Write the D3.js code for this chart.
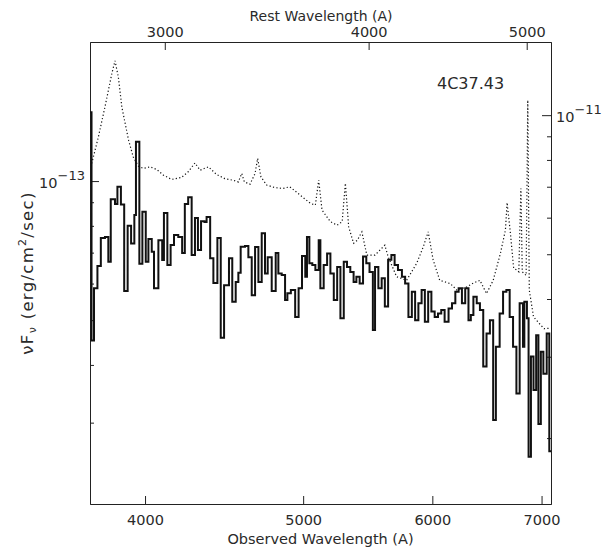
<!DOCTYPE html>
<html>
<head>
<meta charset="utf-8">
<script src="https://cdn.jsdelivr.net/npm/d3@7"></script>
<style>
  body { margin: 0; background: #fff; }
  text { font-family: "DejaVu Sans", sans-serif; fill: #2a2a2a; }
</style>
</head>
<body>
<svg id="chart" width="606" height="549"></svg>
<script>
// 4C37.43 spectrum: observed (histogram, left axis) and model (dotted, right axis)
const redshift = 0.371;

// observed spectrum: left bin edges (A) and flux in units of 1e-14 erg/cm2/sec
const obsEdge = [
  3701, 3709, 3722, 3740, 3758, 3780, 3798, 3811, 3834, 3847,
  3866, 3884, 3903, 3922, 3940, 3949, 3968, 3985, 4004, 4019,
  4038, 4051, 4076, 4098, 4108, 4128, 4147, 4167, 4192, 4215,
  4231, 4251, 4272, 4292, 4310, 4329, 4350, 4363, 4385, 4405,
  4430, 4451, 4472, 4503, 4524, 4546, 4563, 4578, 4606, 4628,
  4650, 4672, 4694, 4716, 4738, 4756, 4783, 4810, 4828, 4851,
  4874, 4890, 4914, 4944, 4968, 4992, 5015, 5027, 5044, 5065,
  5087, 5111, 5123, 5147, 5172, 5196, 5221, 5246, 5270, 5295,
  5319, 5344, 5369, 5390, 5415, 5441, 5466, 5491, 5517, 5534,
  5560, 5586, 5611, 5637, 5663, 5689, 5716, 5748, 5774, 5801,
  5829, 5856, 5883, 5910, 5937, 5965, 5992, 6020, 6048, 6076,
  6105, 6139, 6169, 6198, 6227, 6256, 6285, 6314, 6335, 6358,
  6388, 6417, 6447, 6477, 6508, 6538, 6563, 6598, 6630, 6661,
  6692, 6724, 6756, 6787, 6819, 6832, 6857, 6873, 6896, 6921,
  6947, 6969, 6993, 7018, 7051, 7077
];
const obsEnd = 7094;
const obsFlux = [
  14.1, 4.52, 5.86, 6.55, 7.53, 7.57, 6.69, 9.13, 8.92, 9.72,
  8.90, 5.78, 8.00, 7.33, 8.44, 12.16, 6.62, 8.58, 6.69, 7.49,
  7.03, 5.86, 7.45, 6.75, 8.53, 6.58, 7.27, 7.64, 7.57, 6.99,
  8.92, 9.23, 6.92, 8.32, 7.09, 8.19, 8.15, 8.36, 6.81, 6.02,
  7.53, 4.58, 5.95, 6.81, 5.48, 6.05, 6.33, 7.21, 7.24, 6.84,
  5.66, 7.20, 6.05, 7.71, 6.31, 6.84, 5.78, 6.99, 6.31, 6.26,
  5.53, 5.72, 5.81, 5.08, 5.86, 6.88, 6.21, 7.57, 6.64, 6.58,
  6.42, 7.45, 5.86, 6.58, 6.97, 6.31, 5.53, 6.52, 5.05, 6.69,
  6.52, 6.36, 6.05, 6.21, 6.00, 6.87, 6.64, 6.36, 4.76, 6.52,
  5.86, 6.16, 5.35, 6.76, 6.92, 6.58, 6.42, 6.21, 6.00, 5.08,
  5.76, 5.00, 5.44, 5.81, 4.96, 5.76, 5.22, 5.08, 5.17, 5.26,
  4.96, 5.30, 5.44, 5.76, 5.86, 5.44, 5.86, 5.00, 5.13, 5.62,
  5.44, 5.26, 3.97, 4.68, 5.00, 3.04, 4.38, 5.17, 5.76, 5.81,
  5.08, 4.38, 3.47, 5.44, 4.38, 5.48, 5.05, 2.53, 4.17, 3.53,
  4.64, 2.98, 4.27, 3.83, 4.68, 2.60
];

// model spectrum: wavelength (A) and flux in units of 1e-12 erg/cm2/sec
const modelWave = [
  3710, 3745, 3780, 3817, 3834, 3852, 3871, 3908, 3934, 3962,
  3990, 4028, 4066, 4104, 4153, 4211, 4251, 4292, 4323, 4374,
  4425, 4476, 4530, 4563, 4585, 4602, 4639, 4672, 4689, 4711,
  4749, 4804, 4860, 4906, 4980, 5052, 5087, 5111, 5135, 5196,
  5246, 5283, 5307, 5332, 5369, 5397, 5432, 5470, 5534, 5611,
  5637, 5705, 5786, 5869, 5924, 5965, 6007, 6063, 6154, 6212,
  6300, 6356, 6417, 6477, 6538, 6605, 6652, 6668, 6699, 6730,
  6762, 6779, 6799, 6812, 6849, 6865, 6880, 6921, 6978, 7025,
  7088
];
const modelFlux = [
  7.86, 8.97, 10.42, 12.31, 13.11, 12.10, 10.42, 8.83, 8.12, 7.76,
  7.67, 7.73, 7.63, 7.42, 7.26, 7.33, 7.54, 7.88, 7.60, 7.73,
  7.44, 7.29, 7.23, 7.17, 7.48, 7.17, 7.09, 7.48, 8.06, 7.35,
  7.06, 6.97, 6.94, 7.00, 6.71, 6.44, 6.39, 7.23, 6.23, 5.88,
  5.78, 5.88, 7.12, 5.73, 5.28, 5.36, 5.59, 4.98, 4.98, 5.23,
  4.94, 4.47, 4.39, 4.78, 5.19, 5.59, 4.86, 4.39, 4.32, 4.18,
  4.25, 4.33, 4.39, 4.11, 4.39, 5.02, 5.64, 6.47, 5.55, 4.66,
  4.62, 4.58, 6.94, 4.58, 4.50, 10.78, 4.18, 3.66, 3.54, 3.45,
  3.46
];

const obsTicks = [4000, 5000, 6000, 7000];
const restTicks = [3000, 4000, 5000];
const leftMajor = [1e-13];
const leftMinor = [3e-14, 4e-14, 5e-14, 6e-14, 7e-14, 8e-14, 9e-14];
const rightMajor = [1e-11];
const rightMinor = [2e-12, 3e-12, 4e-12, 5e-12, 6e-12, 7e-12, 8e-12, 9e-12];

const margin = { top: 42, right: 55, bottom: 45, left: 90 };
const width = 606 - margin.left - margin.right;
const height = 549 - margin.top - margin.bottom;

const svg = d3.select("#chart");
const g = svg.append("g").attr("transform", `translate(${margin.left},${margin.top})`);

const xScale = d3.scaleLog().domain([obsEdge[0], obsEnd]).range([0, width]);
const xRest = d3.scaleLog()
  .domain([obsEdge[0] / (1 + redshift), obsEnd / (1 + redshift)])
  .range([0, width]);
const yLeft = d3.scaleLog().domain([2e-14, 2e-13]).range([height, 0]);
const yRight = d3.scaleLog().domain([1.44e-12, 1.44e-11]).range([height, 0]);

// axes
function styleAxis(sel) {
  sel.selectAll("path.domain").attr("stroke", "#222").attr("stroke-width", 1);
  sel.selectAll(".tick line").attr("stroke", "#222").attr("stroke-width", 1);
  sel.selectAll(".tick text").style("font-size", "14.5px").attr("fill", "#2a2a2a")
    .style("font-family", '"DejaVu Sans", sans-serif');
}

g.append("g")
  .attr("transform", `translate(0,${height})`)
  .call(d3.axisBottom(xScale).tickValues(obsTicks).tickSizeInner(-8).tickSizeOuter(0)
    .tickPadding(11).tickFormat(d3.format("d")))
  .call(styleAxis);

g.append("g")
  .call(d3.axisTop(xRest).tickValues(restTicks).tickSizeInner(-8).tickSizeOuter(0)
    .tickPadding(5).tickFormat(d3.format("d")))
  .call(styleAxis);

g.append("g")
  .call(d3.axisLeft(yLeft).tickValues(leftMajor).tickSizeInner(-9).tickSizeOuter(0).tickFormat(""))
  .call(styleAxis);
g.append("g")
  .call(d3.axisLeft(yLeft).tickValues(leftMinor).tickSizeInner(-4).tickSizeOuter(0).tickFormat(""))
  .call(styleAxis);

g.append("g")
  .attr("transform", `translate(${width},0)`)
  .call(d3.axisRight(yRight).tickValues(rightMajor).tickSizeInner(-9).tickSizeOuter(0).tickFormat(""))
  .call(styleAxis);
g.append("g")
  .attr("transform", `translate(${width},0)`)
  .call(d3.axisRight(yRight).tickValues(rightMinor).tickSizeInner(-4).tickSizeOuter(0).tickFormat(""))
  .call(styleAxis);

// power-of-ten labels
function powerLabel(x, y, anchor, exp) {
  const t = g.append("text").attr("x", x).attr("y", y).attr("text-anchor", anchor)
    .style("font-size", "14.5px");
  t.append("tspan").text("10");
  t.append("tspan").attr("dy", -8).style("font-size", "13px").text("\u2212" + exp);
}
powerLabel(-5, yLeft(leftMajor[0]) + 6.5, "end", 13);
powerLabel(width + 5, yRight(rightMajor[0]) + 6.5, "start", 11);

// observed spectrum as histogram
const stepPath = d3.path();
obsFlux.forEach((f, i) => {
  const x0 = xScale(obsEdge[i]);
  const x1 = xScale(i + 1 < obsEdge.length ? obsEdge[i + 1] : obsEnd);
  const y = yLeft(f * 1e-14);
  if (i === 0) stepPath.moveTo(x0, y); else stepPath.lineTo(x0, y);
  stepPath.lineTo(x1, y);
});
g.append("path")
  .attr("d", stepPath.toString())
  .attr("fill", "none")
  .attr("stroke", "#111")
  .attr("stroke-width", 2)
  .attr("stroke-linejoin", "miter");

// model spectrum as dotted line
const modelLine = d3.line()
  .x((d, i) => xScale(modelWave[i]))
  .y(d => yRight(d * 1e-12));
g.append("path")
  .attr("d", modelLine(modelFlux))
  .attr("fill", "none")
  .attr("stroke", "#111")
  .attr("stroke-width", 1.2)
  .attr("stroke-dasharray", "1.2,2.3");

// titles
g.append("text").attr("x", width / 2).attr("y", height + 40)
  .attr("text-anchor", "middle").style("font-size", "14.5px")
  .text("Observed Wavelength (A)");
g.append("text").attr("x", width / 2 + 0.5).attr("y", -21)
  .attr("text-anchor", "middle").style("font-size", "14px")
  .text("Rest Wavelength (A)");
g.append("text").attr("x", 347).attr("y", 47)
  .style("font-size", "16px").text("4C37.43");

const yTitle = svg.append("text")
  .attr("transform", `translate(33,${margin.top + height / 2}) rotate(-90)`)
  .attr("text-anchor", "middle").style("font-size", "16.5px")
  .style("letter-spacing", "1.3px");
yTitle.append("tspan").text("\u03bdF");
yTitle.append("tspan").attr("dy", 3).style("font-size", "11px").text("\u03bd");
yTitle.append("tspan").attr("dy", -3).text(" (erg/cm");
yTitle.append("tspan").attr("dy", -7).style("font-size", "11px").text("2");
yTitle.append("tspan").attr("dy", 7).text("/sec)");
</script>
</body>
</html>
